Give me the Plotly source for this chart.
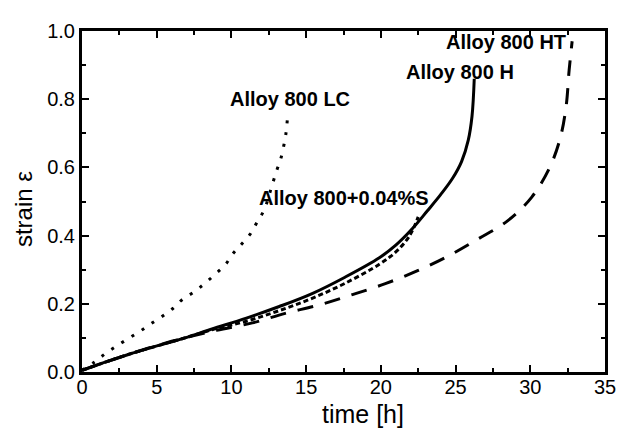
import plotly.graph_objects as go

# Alloy 800 LC (dotted)
lc_t = [0, 0.87, 1.6, 2.35, 3.1, 3.9, 4.6, 5.4, 6.1, 6.7, 7.5, 8.2, 8.9, 9.6, 10.1, 10.7,
        11.3, 11.7, 12.2, 12.6, 13.0, 13.3, 13.5, 13.65, 13.75]
lc_e = [0.005, 0.03, 0.055, 0.077, 0.098, 0.12, 0.141, 0.164, 0.187, 0.212, 0.235, 0.259,
        0.286, 0.315, 0.347, 0.376, 0.407, 0.438, 0.476, 0.53, 0.587, 0.625, 0.663, 0.70, 0.745]

# Alloy 800 H (solid)
h_t = [0, 1.5, 3, 4.5, 6.5, 8.7, 11, 13.2, 15.4, 17.6, 19.9, 21.0, 22.1, 23.1, 24.0,
       24.8, 25.4, 25.85, 26.1, 26.25]
h_e = [0.005, 0.028, 0.05, 0.07, 0.095, 0.126, 0.158, 0.192, 0.23, 0.278, 0.335, 0.372,
       0.42, 0.472, 0.52, 0.568, 0.617, 0.68, 0.75, 0.86]

# Alloy 800+0.04%S (short dashes)
s_t = [0, 1.5, 3, 4.5, 6.5, 8.7, 11, 13.2, 15.4, 17.6, 19.9, 21.0, 21.9, 22.5]
s_e = [0.005, 0.028, 0.05, 0.07, 0.095, 0.124, 0.149, 0.18, 0.216, 0.26, 0.316, 0.352,
       0.398, 0.455]

# Alloy 800 HT (long dashes)
ht_t = [0, 3, 6, 9, 11.4, 13.6, 15.9, 18.1, 20.3, 22.5, 24.5, 26.5, 28.5, 30.1, 31.3,
        32.0, 32.4, 32.6, 32.8]
ht_e = [0.005, 0.05, 0.09, 0.122, 0.144, 0.172, 0.197, 0.227, 0.259, 0.298, 0.34, 0.39,
        0.444, 0.513, 0.6, 0.685, 0.78, 0.885, 0.97]

labels = ["Alloy 800 HT", "Alloy 800 H", "Alloy 800 LC", "Alloy 800+0.04%S"]
label_x = [28.4, 25.27, 13.93, 17.53]
label_y = [0.968, 0.88, 0.802, 0.51]

x_ticks = [0, 5, 10, 15, 20, 25, 30, 35]
y_ticks = [0.0, 0.2, 0.4, 0.6, 0.8, 1.0]

FONT = "Liberation Sans, Arial, sans-serif"

fig = go.Figure()
fig.add_trace(go.Scatter(x=lc_t, y=lc_e, mode="lines",
                         line=dict(color="black", width=3, dash="3px,9px", shape="spline")))
fig.add_trace(go.Scatter(x=h_t, y=h_e, mode="lines",
                         line=dict(color="black", width=3, shape="spline")))
fig.add_trace(go.Scatter(x=s_t, y=s_e, mode="lines",
                         line=dict(color="black", width=3, dash="5px,3px", shape="spline")))
fig.add_trace(go.Scatter(x=ht_t, y=ht_e, mode="lines",
                         line=dict(color="black", width=3, dash="16px,12px", shape="spline")))

for t, x, y in zip(labels, label_x, label_y):
    fig.add_annotation(x=x, y=y, xref="x", yref="y", text="<b>" + t + "</b>",
                       showarrow=False, xanchor="center", yanchor="middle",
                       font=dict(family=FONT, size=20, color="black"))

fig.add_annotation(x=(364 - 82) / 525, y=-43 / 349, xref="paper", yref="paper",
                   text="time [h]", showarrow=False, xanchor="center", yanchor="middle",
                   font=dict(family=FONT, size=25, color="black"))
fig.add_annotation(x=-58 / 525, y=(372 - 205) / 349, xref="paper", yref="paper",
                   text="strain ε", showarrow=False, textangle=-90,
                   xanchor="center", yanchor="middle",
                   font=dict(family=FONT, size=24, color="black"))

axis_common = dict(showline=True, linewidth=3, linecolor="black", mirror="ticks",
                   ticks="inside", ticklen=7, tickwidth=2, tickcolor="black",
                   showgrid=False, zeroline=False,
                   tickfont=dict(family=FONT, size=20, color="black"))
fig.update_xaxes(range=[0, 35], tickvals=x_ticks, ticktext=[str(v) for v in x_ticks],
                 ticklabelstandoff=-5,
                 minor=dict(dtick=2.5, ticks="inside", ticklen=4, tickwidth=2,
                            tickcolor="black", showgrid=False),
                 **axis_common)
fig.update_yaxes(range=[0, 1.0], tickvals=y_ticks, ticktext=["%.1f" % v for v in y_ticks],
                 minor=dict(dtick=0.1, ticks="inside", ticklen=4, tickwidth=2,
                            tickcolor="black", showgrid=False),
                 **axis_common)

# page body adds an 8px margin, so the figure is 620x420 and shifted
fig.update_layout(width=620, height=420, showlegend=False,
                  margin=dict(l=74, r=21, t=15, b=56),
                  plot_bgcolor="white", paper_bgcolor="white")

fig.write_html("out.html")
